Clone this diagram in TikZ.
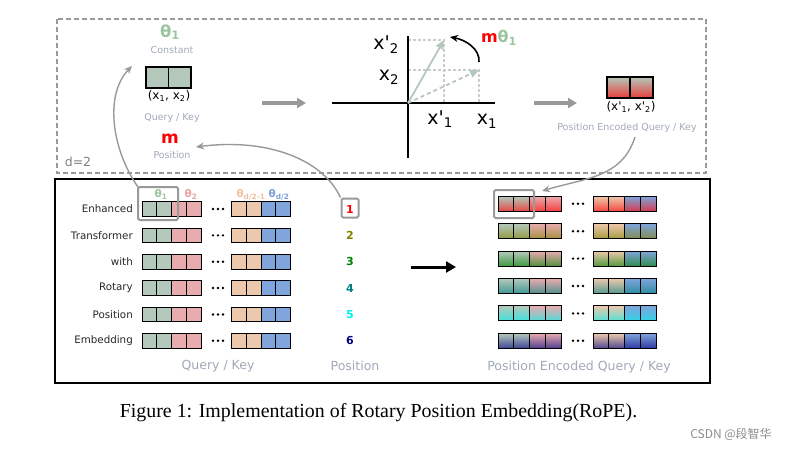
\documentclass[tikz,border=0pt]{standalone}
\usepackage{fontspec}
\setmainfont{DejaVu Sans}
\newfontfamily\nolig{DejaVu Sans}[Ligatures=TeXOff]
\newfontfamily\capfont{Liberation Serif}
\newfontfamily\cjkfont{Noto Sans CJK SC}
\usetikzlibrary{arrows.meta}
\definecolor{cg}{HTML}{B4C8BC}
\definecolor{cp}{HTML}{E8ACAE}
\definecolor{co}{HTML}{ECC8AC}
\definecolor{cb}{HTML}{80A4DC}
\definecolor{tg}{HTML}{9DC4A0}
\definecolor{tp}{HTML}{E8A4A4}
\definecolor{to}{HTML}{F0C0A0}
\definecolor{tb}{HTML}{7EA0D8}
\definecolor{lbl}{HTML}{A0A8B8}
\definecolor{gr}{HTML}{999999}
\definecolor{pa}{HTML}{FF0000}
\definecolor{pb}{HTML}{808000}
\definecolor{pc}{HTML}{008000}
\definecolor{pd}{HTML}{008080}
\definecolor{pe}{HTML}{00F0F0}
\definecolor{pf}{HTML}{000080}
\newcommand{\fs}[1]{\fontsize{#1}{#1}\selectfont}
\newcommand{\sbs}[1]{\textsubscript{#1}}
\newcommand{\apo}{{\nolig '}}
\tikzset{
  cellbox/.style={draw=black, line width=0.9pt},
  lab/.style={inner sep=0pt, font=\fs{9.5}, text=lbl},
  biglab/.style={inner sep=0pt, font=\fs{12.5}, text=lbl},
  rowlab/.style={inner sep=0pt, anchor=east, font=\fs{10.3}, text=black!85},
  axlab/.style={inner sep=0pt, font=\fs{19}},
  hl/.style={draw=gr, line width=2pt, rounded corners=1.5pt},
  grarrow/.style={draw=gr, line width=3.5pt, -{Triangle[length=9pt,width=10pt]}},
  grcurve/.style={draw=gr, line width=1.4pt, -{Stealth[length=8pt,width=7pt]}},
  guide/.style={draw=black!20, line width=1.3pt, dash pattern=on 3pt off 2pt},
  posnum/.style={inner sep=0pt, font=\fs{11}\bfseries},
  thlab/.style={inner sep=0pt, font=\fs{10.5}\bfseries},
}
\begin{document}
\begin{tikzpicture}[x=1pt,y=-1pt]
\useasboundingbox (0,0) rectangle (797,450);
% frames
\draw[draw=black!40, line width=2.2pt, dash pattern=on 5pt off 3pt] (57,19) rectangle (706,173);
\draw[black, line width=2pt] (55,179) rectangle (710,383);
\node[inner sep=0pt, font=\fs{12.5}, text=black!50] (d2) at (78,162) {d=2};
% ---------- top left ----------
\node[inner sep=0pt, font=\fs{16.5}\bfseries, text=tg] (th) at (170,32) {θ\sbs{1}};
\node[lab] (const) at (172,50) {Constant};
\fill[cg] (146,67) rectangle (191,88);
\draw[cellbox, line width=1.2pt] (146,67) rectangle (168.5,88);
\draw[cellbox, line width=1.2pt] (168.5,67) rectangle (191,88);
\node[inner sep=0pt, font=\fs{12}] (x12) at (169,96) {(x\sbs{1}, x\sbs{2})};
\node[lab] (qklab) at (172,118) {Query / Key};
\node[inner sep=0pt, font=\fs{17}\bfseries, text=red] (m) at (170,139) {m};
\node[lab] (poslab) at (172,155) {Position};
% gray arrows
\coordinate (a1s) at (262,103); \coordinate (a1e) at (306,103);
\draw[grarrow] (a1s) -- (a1e);
\coordinate (a2s) at (534,103); \coordinate (a2e) at (577,103);
\draw[grarrow] (a2s) -- (a2e);
% ---------- rotation plot ----------
\coordinate (O) at (408,103);
\coordinate (P1) at (444,40);
\coordinate (P0) at (479,70);
\draw[guide] (408,40) -- (444,40) -- (444,103);
\draw[guide] (408,70) -- (479,70) -- (479,103);
\draw[black, line width=2.6pt] (332,103) -- (495,103);
\draw[black, line width=2.6pt] (408,36) -- (408,158);
\draw[cg, line width=1.8pt, -{Triangle[length=9pt,width=8pt]}] (O) -- (P1);
\draw[cg, line width=1.8pt, dash pattern=on 4pt off 3pt, -{Triangle[length=9pt,width=8pt]}] (O) -- (P0);
\coordinate (rs) at (479,62); \coordinate (re) at (450,37);
\draw[black, line width=1.6pt, -{Stealth[length=8pt,width=7pt]}] (rs) .. controls (480,49) and (466,40) .. (re);
\node[inner sep=0pt, font=\fs{16}\bfseries] (mth) at (499,38) {\textcolor{red}{m}\textcolor{tg}{θ\sbs{1}}};
\node[axlab] (lx2p) at (386,45) {x\apo\sbs{2}};
\node[axlab] (lx2) at (389,77) {x\sbs{2}};
\node[axlab] (lx1p) at (440,119) {x\apo\sbs{1}};
\node[axlab] (lx1) at (487,121) {x\sbs{1}};
% ---------- top right ----------
\shade[top color=cg, middle color=cg, bottom color=pa!70!cg] (607,77) rectangle (653,98);
\draw[cellbox, line width=1.2pt] (607,77) rectangle (630,98);
\draw[cellbox, line width=1.2pt] (630,77) rectangle (653,98);
\node[inner sep=0pt, font=\fs{12}] (x12p) at (631,107) {(x\apo\sbs{1}, x\apo\sbs{2})};
\node[lab] (pelab) at (627,128) {Position Encoded Query / Key};
% ---------- bottom grids ----------
\foreach \i/\w/\pc in {0/Enhanced/pa,1/Transformer/pb,2/with/pc,3/Rotary/pd,4/Position/pe,5/Embedding/pf}{
  \pgfmathsetmacro{\yy}{209+26.35*\i}
  \foreach \j/\c in {0/cg,1/cg,2/cp,3/cp}{
    \draw[cellbox, fill=\c] ({142+14.85*\j},\yy-7.25) rectangle ++(14.85,14.5);
    \draw[cellbox, fill=\ifnum\j<2 co\else cb\fi] ({231.3+14.85*\j},\yy-7.25) rectangle ++(14.85,14.5);
  }
  \foreach \k in {-5,0,5} \fill (218+\k,\yy) circle (1.35);
  \node[rowlab] (row\i) at (133,\yy) {\w};
  \node[posnum, text=\pc] (num\i) at (350,\yy) {\the\numexpr\i+1\relax};
  % right grid
  \pgfmathsetmacro{\yr}{203.8+27.4*\i}
  \foreach \j/\c in {0/cg,1/cg,2/cp,3/cp}{
    \shade[top color=\c, middle color=\c, bottom color=\pc!65!\c] ({498+15.85*\j},\yr-7.5) rectangle ++(15.85,15);
    \draw[cellbox] ({498+15.85*\j},\yr-7.5) rectangle ++(15.85,15);
  }
  \foreach \j/\c in {0/co,1/co,2/cb,3/cb}{
    \shade[top color=\c, middle color=\c, bottom color=\pc!65!\c] ({593+15.85*\j},\yr-7.5) rectangle ++(15.85,15);
    \draw[cellbox] ({593+15.85*\j},\yr-7.5) rectangle ++(15.85,15);
  }
  \foreach \k in {-5,0,5} \fill (578+\k,\yr) circle (1.35);
}
% theta labels
\node[thlab, text=tg] (t1) at (161,194.5) {θ\sbs{1}};
\node[thlab, text=tp] (t2) at (191,194.5) {θ\sbs{2}};
\node[thlab, text=to] (t3) at (251,194.5) {θ\sbs{d/2-1}};
\node[thlab, text=tb] (t4) at (279,194.5) {θ\sbs{d/2}};
% highlights
\draw[hl] (138,187) rectangle (178,220);
\node[hl, minimum width=17pt, minimum height=19pt, inner sep=0pt] (box1) at (350,208) {};
\draw[hl] (494,190) rectangle (534,218);
% bottom labels
\node[biglab] (bqk) at (218,366) {Query / Key};
\node[biglab] (bpos) at (355,366) {Position};
\node[biglab] (bpe) at (579,367) {Position Encoded Query / Key};
% black arrow
\coordinate (ba1) at (411,267); \coordinate (ba2) at (456,267);
\draw[black, line width=3pt, -{Triangle[length=10pt,width=11pt]}] (ba1) -- (ba2);
% curved gray connectors
\coordinate (c1s) at (138,187); \coordinate (c1e) at (132,66);
\draw[grcurve] (c1s) .. controls (112,150) and (104,95) .. (c1e);
\coordinate (c2e) at (196,147);
\draw[grcurve] (box1.north west) .. controls (322,158) and (265,138) .. (c2e);
\coordinate (c3s) at (635,137); \coordinate (c3e) at (542,191);
\draw[grcurve] (c3s) .. controls (622,178) and (585,178) .. (c3e);
% caption
\node[inner sep=0pt, font=\capfont\fs{19.9}] (cap) at (378.5,413) {Figure 1: Implementation of Rotary Position Embedding(RoPE).};
\node[inner sep=0pt, font=\cjkfont\fs{12}, text=black!45] (wm) at (731,434) {CSDN @段智华};
\end{tikzpicture}
\end{document}
